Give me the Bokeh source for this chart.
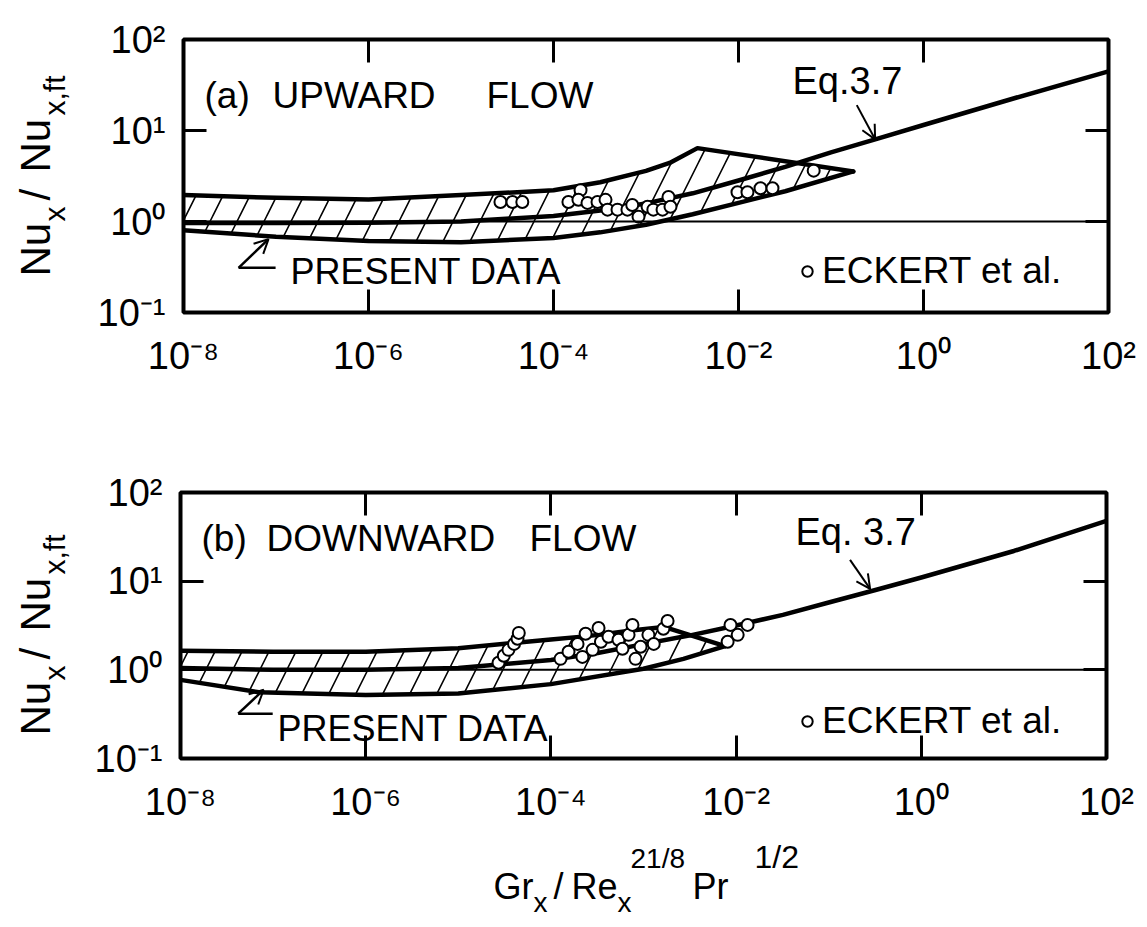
from bokeh.plotting import figure
from bokeh.models import (Range1d, LogAxis, LogScale, FixedTicker, CustomJSTickFormatter, Span,
                          Label, Arrow, OpenHead)
from bokeh.layouts import column, row
from bokeh.embed import file_html
from bokeh.resources import INLINE
import math

FONT = "Liberation Sans"
MID = 0.347  # distance from text middle to alphabetic baseline, in em

# ---------------- axes ----------------
x_ticks = [1e-8, 1e-6, 1e-4, 1e-2, 1, 100]
x_tick_labels = ["10\u207b\u2078", "10\u207b\u2076", "10\u207b\u2074", "10\u207b\u00b2", "10\u2070", "10\u00b2"]
y_ticks = [0.1, 1, 10, 100]
y_tick_labels = ["10\u207b\u00b9", "10\u2070", "10\u00b9", "10\u00b2"]

# ---------------- panel (a) upward flow ----------------
a_eq_x = [1e-8, 1e-7, 1e-6, 1e-5, 1e-4, 3.2e-4, 1e-3, 3.2e-3, 1e-2, 3.2e-2, 1e-1, 3.2e-1, 1, 10, 100]
a_eq_y = [0.96, 0.96, 0.97, 1.0, 1.15, 1.32, 1.58, 2.04, 2.82, 3.98, 5.75, 8.13, 11.5, 22.9, 44.7]

a_upper_x = [1e-8, 1e-7, 1e-6, 1e-5, 1e-4, 3.2e-4, 1e-3, 1.8e-3, 3.6e-3, 0.174]
a_upper_y = [1.95, 1.82, 1.74, 1.95, 2.2, 2.7, 3.6, 4.4, 6.4, 3.55]
a_lower_x = [1e-8, 1e-7, 1e-6, 1e-5, 1e-4, 3.2e-4, 1e-3, 3.2e-3, 1e-2, 3.2e-2, 0.174]
a_lower_y = [0.80, 0.68, 0.61, 0.59, 0.66, 0.76, 0.92, 1.2, 1.6, 2.15, 3.55]

a_eckert_x = [2.67e-5, 3.6e-5, 4.6e-5, 1.45e-4, 1.96e-4, 1.86e-4, 2.33e-4, 2.99e-4, 3.65e-4,
              3.84e-4, 4.92e-4, 6.3e-4, 7.1e-4, 8.3e-4, 1.04e-3, 1.2e-3, 1.51e-3, 1.75e-3,
              1.84e-3, 9.75e-3, 1.25e-2, 1.73e-2, 2.33e-2, 6.5e-2]
a_eckert_y = [1.64, 1.64, 1.64, 1.64, 2.21, 1.73, 1.6, 1.64, 1.73,
              1.35, 1.35, 1.35, 1.52, 1.13, 1.45, 1.35, 1.35, 1.86,
              1.45, 2.1, 2.1, 2.32, 2.32, 3.62]

# ---------------- panel (b) downward flow ----------------
b_eq_x = [1e-8, 1e-7, 1e-6, 1e-5, 1e-4, 3.2e-4, 1e-3, 3.2e-3, 1e-2, 3.2e-2, 1e-1, 3.2e-1, 1, 10, 100]
b_eq_y = [1.05, 1.0, 1.0, 1.05, 1.29, 1.55, 1.95, 2.45, 3.16, 4.17, 5.75, 7.94, 11.0, 21.9, 47.9]

b_upper_x = [1e-8, 1e-7, 1e-6, 1e-5, 1e-4, 2.5e-4, 7.8e-4, 1.66e-3, 7.6e-3]
b_upper_y = [1.64, 1.6, 1.6, 1.75, 2.2, 2.4, 2.8, 3.05, 1.85]
b_lower_x = [1e-8, 7e-8, 1e-6, 1e-5, 1e-4, 1e-3, 2.7e-3, 7.6e-3]
b_lower_y = [0.77, 0.56, 0.52, 0.54, 0.69, 1.03, 1.33, 1.85]

b_eckert_x = [2.72e-5, 3.1e-5, 3.48e-5, 4.0e-5, 4.36e-5, 4.5e-5,
              1.27e-4, 1.55e-4, 1.94e-4, 2.37e-4, 3.27e-4, 2.19e-4, 2.82e-4, 3.47e-4, 4.19e-4,
              5.37e-4, 5.93e-4, 6.9e-4, 7.6e-4, 8.2e-4, 9.3e-4, 1.13e-3, 1.29e-3, 1.64e-3, 1.82e-3,
              8.1e-3, 1.04e-2, 8.7e-3, 1.33e-2]
b_eckert_y = [1.2, 1.44, 1.68, 1.96, 2.24, 2.61,
              1.33, 1.6, 1.96, 2.55, 2.97, 1.4, 1.68, 2.07, 2.36,
              2.18, 1.73, 2.48, 3.21, 1.33, 1.82, 2.48, 1.96, 2.9, 3.56,
              2.07, 2.48, 3.21, 3.21]


def tick_formatter(vals, labels):
    return CustomJSTickFormatter(args=dict(tvals=vals, tlabels=labels), code="""
        const i = tvals.findIndex(t => Math.abs(Math.log10(t) - Math.log10(tick)) < 1e-6);
        return i >= 0 ? tlabels[i] : "";
    """)


def blank_formatter():
    return CustomJSTickFormatter(code="return '';")


def style_axis(ax):
    ax.major_tick_in = 23
    ax.major_tick_out = 0
    ax.minor_tick_in = 0
    ax.minor_tick_out = 0
    ax.major_tick_line_width = 3
    ax.major_tick_line_color = "black"
    ax.axis_line_color = None
    ax.major_label_text_font = FONT
    ax.major_label_text_font_size = "38px"
    ax.major_label_text_color = "black"


def _add(p, x, y, text, size, angle, units):
    p.add_layout(Label(x=x, y=y, x_units=units, y_units=units, text=text,
                       text_font=FONT, text_font_size=f"{size}px", text_color="black",
                       text_baseline="middle", text_align="left", angle=angle))


def frame_text(p, x, baseline, text, size):
    """x, baseline in pixels from the frame's left / bottom edge (y up)."""
    _add(p, x, baseline + MID * size, text, size, 0.0, "screen")


def page_text(t, x, baseline, text, size):
    """x, baseline in page pixels (text figure with y growing downward)."""
    _add(t, x, baseline - MID * size, text, size, 0.0, "data")


def page_vtext(t, baseline_x, start_y, text, size):
    """rotated text reading upward; baseline at page x, text starting at page y."""
    _add(t, baseline_x - MID * size, start_y - 40, text, size, math.pi / 2, "data")


def text_fig(w, h, x0, x1, y_top, y_bottom):
    # blank canvas whose data coordinates equal page pixels (y grows downward)
    t = figure(x_axis_location=None, y_axis_location=None,
               x_range=Range1d(x0, x1), y_range=Range1d(y_bottom, y_top),
               frame_width=w, frame_height=h,
               min_border_left=0, min_border_right=0, min_border_top=0, min_border_bottom=0,
               output_backend="svg", toolbar_location=None,
               background_fill_color="white", border_fill_color="white")
    t.outline_line_color = None
    t.grid.visible = False
    return t


def make_panel(left, top, fw, fh, bottom, right, eq_x, eq_y, up_x, up_y, lo_x, lo_y, ex, ey):
    p = figure(x_axis_location=None, y_axis_location=None,
               x_range=Range1d(1e-8, 100), y_range=Range1d(0.1, 100),
               frame_width=fw, frame_height=fh,
               min_border_left=left, min_border_top=top, min_border_bottom=bottom, min_border_right=right,
               output_backend="svg", toolbar_location=None,
               background_fill_color="white", border_fill_color="white")
    p.x_scale = LogScale()
    p.y_scale = LogScale()
    p.outline_line_color = "black"
    p.outline_line_width = 4
    p.grid.visible = False

    xb = LogAxis(ticker=FixedTicker(ticks=x_ticks), formatter=tick_formatter(x_ticks, x_tick_labels))
    yl = LogAxis(ticker=FixedTicker(ticks=y_ticks), formatter=tick_formatter(y_ticks, y_tick_labels))
    xa = LogAxis(ticker=FixedTicker(ticks=x_ticks), formatter=blank_formatter())
    yr = LogAxis(ticker=FixedTicker(ticks=y_ticks), formatter=blank_formatter())
    for ax in (xb, yl, xa, yr):
        style_axis(ax)
    xb.major_label_standoff = 22
    yl.major_label_standoff = 18
    xa.major_label_text_font_size = "2px"
    yr.major_label_text_font_size = "2px"
    xa.major_label_standoff = 0
    yr.major_label_standoff = 0
    p.add_layout(xb, "below")
    p.add_layout(yl, "left")
    p.add_layout(xa, "above")
    p.add_layout(yr, "right")

    p.add_layout(Span(location=1, dimension="width", line_color="black", line_width=2))

    p.patch(x=up_x + lo_x[::-1], y=up_y + lo_y[::-1], fill_color=None, line_color=None,
            hatch_pattern="/", hatch_color="black", hatch_weight=1.6, hatch_scale=54)
    for xs, ys in ((up_x, up_y), (lo_x, lo_y), (eq_x, eq_y)):
        p.line(xs, ys, line_color="black", line_width=4.5, line_join="round", line_cap="round")

    p.scatter(ex, ey, marker="circle", size=12, fill_color="white", line_color="black",
              line_width=2, legend_label="ECKERT et al.")
    lg = p.legend[0]
    lg.border_line_color = None
    lg.background_fill_alpha = 0
    lg.label_text_font = FONT
    lg.label_text_font_size = "37px"
    lg.label_text_color = "black"
    lg.glyph_width = 26
    lg.glyph_height = 26
    lg.label_standoff = 2
    lg.padding = 0
    lg.margin = 0
    lg.spacing = 0
    return p


# page layout: [ta | pa] / [tb | pb] / tx
pa = make_panel(93, 39, 925, 273, 128, 39, a_eq_x, a_eq_y, a_upper_x, a_upper_y,
                a_lower_x, a_lower_y, a_eckert_x, a_eckert_y)
pb = make_panel(90, 52, 926, 266, 79, 41, b_eq_x, b_eq_y, b_upper_x, b_upper_y,
                b_lower_x, b_lower_y, b_eckert_x, b_eckert_y)
pa.legend[0].location = (611, 20)
pb.legend[0].location = (614, 16)

ta = text_fig(90, 440, 0, 90, 0, 440)
tb = text_fig(90, 397, 0, 90, 440, 837)
tx = text_fig(1147, 90, 0, 1147, 837, 927)

# panel texts (pixels from the frame's bottom-left corner)
frame_text(pa, 21, 204, "(a)", 37)
frame_text(pa, 89, 204, "UPWARD", 37)
frame_text(pa, 303, 204, "FLOW", 37)
frame_text(pa, 609, 218, "Eq.3.7", 38)
frame_text(pa, 107, 29, "PRESENT  DATA", 36)

frame_text(pb, 21, 207, "(b)", 37)
frame_text(pb, 86, 207, "DOWNWARD", 37)
frame_text(pb, 349, 207, "FLOW", 37)
frame_text(pb, 615, 213, "Eq. 3.7", 38)
frame_text(pb, 97, 18, "PRESENT  DATA", 36)

# arrows / leaders (data units)
head = dict(size=14, line_width=2, line_color="black")
pa.add_layout(Arrow(end=OpenHead(**head), x_start=0.19, y_start=19, x_end=0.30, y_end=8.0,
                    line_width=2, line_color="black"))
pb.add_layout(Arrow(end=OpenHead(**head), x_start=0.17, y_start=17.4, x_end=0.28, y_end=8.2,
                    line_width=2, line_color="black"))
pa.add_layout(Arrow(end=None, x_start=9.9e-8, y_start=0.31, x_end=3.94e-8, y_end=0.31,
                    line_width=2.5, line_color="black"))
pa.add_layout(Arrow(end=OpenHead(**head), x_start=3.94e-8, y_start=0.31, x_end=8.3e-8, y_end=0.64,
                    line_width=2.5, line_color="black"))
pb.add_layout(Arrow(end=None, x_start=9.9e-8, y_start=0.32, x_end=4.2e-8, y_end=0.32,
                    line_width=2.5, line_color="black"))
pb.add_layout(Arrow(end=OpenHead(**head), x_start=4.2e-8, y_start=0.32, x_end=7.9e-8, y_end=0.595,
                    line_width=2.5, line_color="black"))

# y-axis titles (rotated, built from pieces for the subscripts; page pixel coordinates)
for t, base in ((ta, 277), (tb, 723)):
    page_vtext(t, 50, base, "Nu", 42)
    page_vtext(t, 64, base - 55, "x", 30)
    page_vtext(t, 50, base - 76, "/", 42)
    page_vtext(t, 50, base - 104, "Nu", 42)
    page_vtext(t, 64, base - 161, "x,ft", 30)

# x-axis title (page pixel coordinates)
page_text(tx, 493, 898, "Gr", 36)
page_text(tx, 533, 912, "x", 28)
page_text(tx, 553, 898, "/", 36)
page_text(tx, 571, 898, "Re", 36)
page_text(tx, 617, 912, "x", 28)
page_text(tx, 630, 868, "21/8", 28)
page_text(tx, 692, 898, "Pr", 36)
page_text(tx, 754, 868, "1/2", 32)

layout = column(row(ta, pa), row(tb, pb), tx)
open("out.html", "w").write(file_html(layout, INLINE))
